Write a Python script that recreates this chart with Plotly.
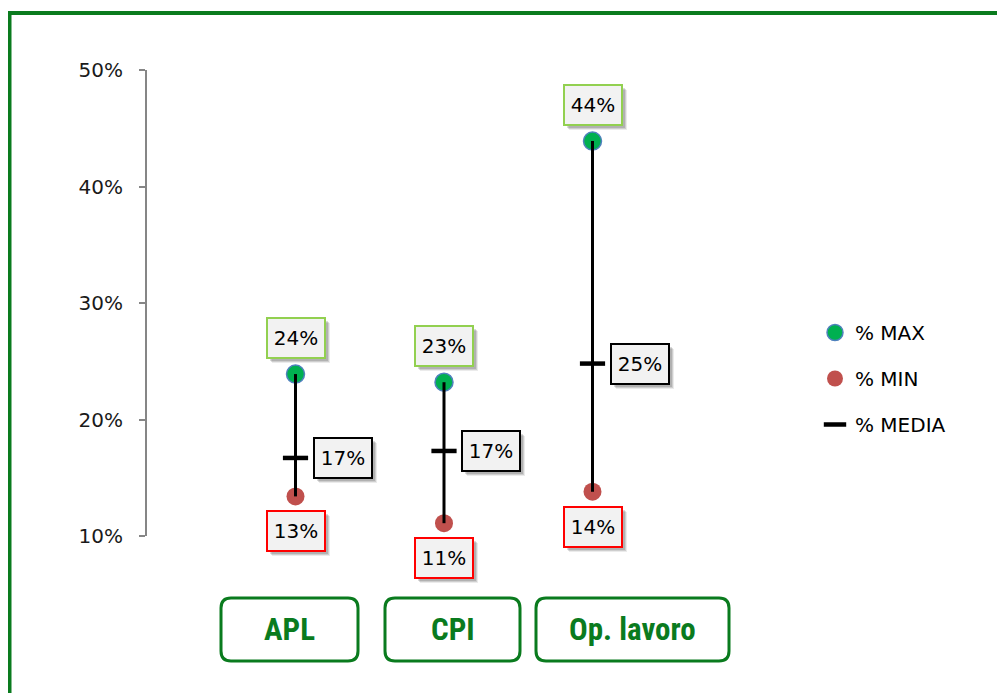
import plotly.graph_objects as go

# figure geometry (pixels); the page adds an 8px body margin
W, H = 1005, 693
OFF = 8
ML, MT = 147 - OFF, 70 - OFF
MR, MB = W - (741 - OFF), H - (536 - OFF)

categories = ['APL', 'CPI', 'Op. lavoro']
x_pos = [1, 2, 3]
pct_max = [23.9, 23.2, 43.9]
pct_min = [13.4, 11.1, 13.8]
pct_media = [16.7, 17.3, 24.8]
max_labels = ['24%', '23%', '44%']
min_labels = ['13%', '11%', '14%']
media_labels = ['17%', '17%', '25%']
y_ticks = [10, 20, 30, 40, 50]
y_tick_labels = ['10%', '20%', '30%', '40%', '50%']

GREEN_DARK = '#0a7b1e'
FONT = 'DejaVu Sans, sans-serif'
NARROW = 'Liberation Sans Narrow, Arial Narrow, Roboto Condensed, Roboto, sans-serif'


def px_x(px):
    """Page pixel x -> paper coordinate."""
    return (px - OFF - ML) / (W - ML - MR)


def px_y(px):
    """Page pixel y -> paper coordinate."""
    return (H - MB - (px - OFF)) / (H - MT - MB)


def rounded_box(x0, x1, y0, y1, r=10):
    """Rounded rectangle path in paper coords from page pixel corners."""
    rx = r / (W - ML - MR)
    ry = r / (H - MT - MB)
    a, b = px_x(x0), px_x(x1)
    top, bot = px_y(y0), px_y(y1)
    return (f'M {a + rx} {top} L {b - rx} {top} Q {b} {top} {b} {top - ry} '
            f'L {b} {bot + ry} Q {b} {bot} {b - rx} {bot} L {a + rx} {bot} '
            f'Q {a} {bot} {a} {bot + ry} L {a} {top - ry} Q {a} {top} {a + rx} {top} Z')


fig = go.Figure()

# high-low lines
line_x, line_y = [], []
for x, hi, lo in zip(x_pos, pct_max, pct_min):
    line_x += [x, x, None]
    line_y += [hi, lo, None]

fig.add_trace(go.Scatter(
    x=x_pos, y=pct_max, mode='markers', name='% MAX', legendgroup='a',
    marker=dict(size=18, color='#00b050', line=dict(color='#4f81bd', width=1.5))))
fig.add_trace(go.Scatter(
    x=x_pos, y=pct_min, mode='markers', name='% MIN', legendgroup='b',
    marker=dict(size=18, color='#c0504d', line=dict(color='#c0504d', width=0))))
fig.add_trace(go.Scatter(
    x=line_x, y=line_y, mode='lines', showlegend=False, hoverinfo='skip',
    line=dict(color='black', width=3)))
fig.add_trace(go.Scatter(
    x=x_pos, y=pct_media, mode='markers', name='% MEDIA', legendgroup='c',
    marker=dict(symbol='line-ew', size=18, color='black', line=dict(color='black', width=4.5))))

annotations = []


def label(x, y, text, border, xshift=0, yshift=0):
    common = dict(x=x, y=y, xref='x', yref='y', showarrow=False,
                  xanchor='center', yanchor='middle',
                  width=46, height=28, borderpad=5, borderwidth=2,
                  font=dict(family=FONT, size=20, color='black'))
    # soft drop shadow (blank boxes)
    for d, a in [(5, 0.08), (4, 0.12), (3, 0.14)]:
        annotations.append(dict(common, text=' ', xshift=xshift + d, yshift=yshift - d,
                                bgcolor=f'rgba(0,0,0,{a})', bordercolor='rgba(0,0,0,0)'))
    annotations.append(dict(common, text=text, xshift=xshift, yshift=yshift,
                            bgcolor='#f2f2f2', bordercolor=border))


for x, v, t in zip(x_pos, pct_max, max_labels):
    label(x, v, t, '#92d050', yshift=36)
for x, v, t in zip(x_pos, pct_min, min_labels):
    label(x, v, t, '#ff0000', yshift=-35)
for x, v, t in zip(x_pos, pct_media, media_labels):
    label(x, v, t, 'black', xshift=47)

# category boxes below the plot (page pixel spans)
cat_boxes = [(221, 358), (385, 520), (536, 729)]
shapes = [dict(type='rect', xref='paper', yref='paper',
               x0=px_x(9.5), x1=px_x(1020), y0=px_y(13), y1=px_y(720),
               line=dict(color=GREEN_DARK, width=4), fillcolor='rgba(0,0,0,0)')]
for name, (bx0, bx1) in zip(categories, cat_boxes):
    shapes.append(dict(type='path', xref='paper', yref='paper',
                       path=rounded_box(bx0, bx1, 598, 661),
                       line=dict(color=GREEN_DARK, width=3)))
    annotations.append(dict(x=px_x((bx0 + bx1) / 2), y=px_y(629.5), xref='paper',
                            yref='paper', showarrow=False, text=f'<b>{name}</b>',
                            xanchor='center', yanchor='middle',
                            font=dict(family=NARROW, size=31, color=GREEN_DARK)))

fig.update_layout(
    width=W, height=H,
    margin=dict(l=ML, r=MR, t=MT, b=MB),
    paper_bgcolor='white', plot_bgcolor='white',
    font=dict(family=FONT, size=20, color='black'),
    xaxis=dict(range=[0, 4], visible=False, fixedrange=True),
    yaxis=dict(range=[10, 50], tickvals=y_ticks, ticktext=y_tick_labels,
               showgrid=False, zeroline=False, showline=True, linecolor='#868686',
               linewidth=2, ticks='outside', ticklen=6, tickcolor='#868686',
               tickwidth=2, ticklabelstandoff=12,
               tickfont=dict(family=FONT, size=20, color='#1a1a1a')),
    legend=dict(x=px_x(815), y=px_y(313), xanchor='left', yanchor='top',
                traceorder='grouped', tracegroupgap=17,
                font=dict(family=FONT, size=20, color='black'),
                bgcolor='rgba(0,0,0,0)'),
    shapes=shapes,
    annotations=annotations,
)

fig.write_html('out.html')
